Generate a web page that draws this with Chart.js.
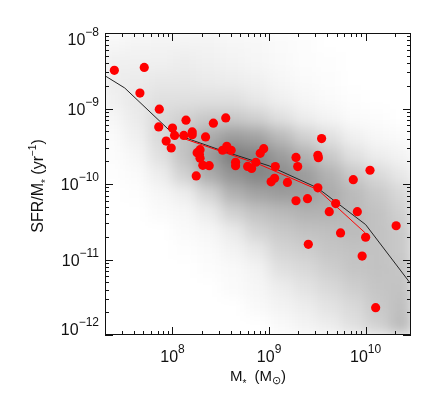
<!DOCTYPE html>
<html>
<head>
<meta charset="utf-8">
<script src="https://cdn.jsdelivr.net/npm/chart.js@4.4.1/dist/chart.umd.min.js"></script>
<style>
  body { margin: 0; background: #fff; }
  #wrap { width: 443px; height: 403px; }
</style>
</head>
<body>
<div id="wrap"><canvas id="c" width="443" height="403"></canvas></div>
<script>
// --- DATA ---
// red points: stellar mass (Msun) and specific SFR (1/yr)
const redMass = [2.5e7, 5.1e7, 4.6e7, 7.3e7, 7.2e7, 1.0e8, 8.6e7, 9.7e7, 1.05e8, 1.31e8,
  1.38e8, 1.6e8, 1.6e8, 2.2e8, 2.65e8, 3.56e8, 1.8e8, 1.93e8, 1.9e8, 1.93e8,
  2.06e8, 2.4e8, 1.76e8, 3.3e8, 3.65e8, 4.05e8, 4.5e8, 4.5e8, 6.0e8, 6.6e8,
  7.3e8, 8.1e8, 8.8e8, 1.05e9, 1.14e9, 1.16e9, 1.55e9, 1.9e9, 1.98e9, 1.9e9,
  2.5e9, 2.55e9, 3.2e9, 3.2e9, 3.24e9, 3.5e9, 4.2e9, 4.9e9, 5.5e9, 7.45e9,
  8.2e9, 9.2e9, 1.0e10, 1.11e10, 1.27e10, 2.07e10];
const redSSFR = [3.2e-9, 3.5e-9, 1.6e-9, 9.8e-10, 5.7e-10, 5.5e-10, 3.7e-10, 3.0e-10, 4.4e-10, 4.4e-10,
  7.0e-10, 4.9e-10, 4.5e-10, 4.2e-10, 6.4e-10, 7.5e-10, 2.6e-10, 2.85e-10, 2.45e-10, 2.2e-10,
  1.77e-10, 1.75e-10, 1.28e-10, 2.8e-10, 3.15e-10, 2.8e-10, 1.94e-10, 1.75e-10, 1.71e-10, 1.61e-10,
  1.94e-10, 2.55e-10, 2.94e-10, 1.07e-10, 1.19e-10, 1.7e-10, 1.05e-10, 2.25e-10, 1.7e-10, 6.0e-11,
  6.4e-11, 1.59e-11, 8.9e-11, 2.4e-10, 2.23e-10, 4.0e-10, 4.3e-11, 5.5e-11, 2.25e-11, 1.14e-10,
  4.3e-11, 1.11e-11, 1.97e-11, 1.52e-10, 2.3e-12, 2.8e-11];

// red median line
const redLineMass = [1.2e8, 8.1e8, 3.2e9, 9.9e9];
const redLineSSFR = [4.15e-10, 1.8e-10, 8.4e-11, 2.25e-11];

// black median line of the background sample
const blackLineMass = [1e7, 3.2e7, 1e8, 3.16e8, 1e9, 3.16e9, 1e10, 3.16e10];
const blackLineSSFR = [4.7e-9, 1.87e-9, 4.7e-10, 2.8e-10, 1.74e-10, 8.9e-11, 2.9e-11, 4.2e-12];

// background sample, read as a density grid (bin centres in log10, 0.25 dex bins)
const cloudLogMass = [7.375, 7.625, 7.875, 8.125, 8.375, 8.625, 8.875, 9.125, 9.375, 9.625, 9.875, 10.125, 10.375];
const cloudLogSSFR = [-8.125, -8.375, -8.625, -8.875, -9.125, -9.375, -9.625, -9.875,
  -10.125, -10.375, -10.625, -10.875, -11.125, -11.375, -11.625, -11.875];
const cloudDensity = [
  [0.5, 0.7, 0.8, 0.8, 0.8, 0.6, 0.5, 0.3, 0.2, 0, 0, 0, 0],
  [1, 1, 1, 1.2, 1, 0.8, 0.6, 0.4, 0.2, 0.1, 0, 0, 0],
  [1.2, 1.3, 1.5, 1.5, 1.3, 1.2, 1, 0.6, 0.3, 0.2, 0, 0, 0],
  [1, 1.5, 2, 2, 2, 2, 1.5, 1, 0.6, 0.3, 0.1, 0, 0],
  [0.6, 1.3, 2.5, 3, 3.5, 3.5, 3, 2, 1.2, 0.7, 0.3, 0.2, 0],
  [0.3, 1, 2.5, 4, 5.5, 6.5, 6, 4.5, 3, 2, 1, 0.5, 0.3],
  [0.2, 0.6, 2, 4, 6.5, 8.5, 8, 6.5, 5, 3.5, 2, 1.2, 0.8],
  [0.1, 0.3, 1.2, 3, 5.5, 7, 8, 7.5, 6.5, 5, 3.5, 2.5, 1.5],
  [0, 0.1, 0.6, 1.2, 2.8, 5, 6, 6.5, 6.5, 5.5, 4.5, 3.5, 2.5],
  [0, 0, 0.3, 0.5, 1.3, 3, 4, 4.5, 5, 5, 4.5, 4, 3],
  [0, 0, 0, 0.3, 0.6, 1.4, 2.8, 3.5, 4, 4.2, 4.5, 4, 3.5],
  [0, 0, 0, 0.1, 0.3, 0.8, 1.5, 2.8, 3.2, 3.8, 4, 4, 3.5],
  [0, 0, 0, 0, 0.2, 0.4, 0.8, 2, 2.5, 3.2, 3.8, 4, 3.8],
  [0, 0, 0, 0, 0, 0.3, 0.6, 1.2, 1.8, 2.5, 3.2, 3.8, 4],
  [0, 0, 0, 0, 0, 0, 0.4, 0.8, 1.2, 1.8, 2.5, 3.5, 4.2],
  [0, 0, 0, 0, 0, 0, 0, 0.4, 0.8, 1.2, 2, 3, 4.5]
];

// axis ranges and tick labels (exponents of ten)
const xRange = [2.0e7, 2.95e10];
const yRange = [1e-12, 1e-8];
const xTickExps = [8, 9, 10];
const yTickExps = [-8, -9, -10, -11, -12];

// --- STYLE ---
const FONT = '"Liberation Sans", Arial, Helvetica, sans-serif';
const INK = '#111';

function toXY(xs, ys) { return xs.map((x, i) => ({ x: x, y: ys[i] })); }

// rich text helpers: parts are [text, fontSize, dy]
function measureRich(ctx, parts) {
  let w = 0;
  parts.forEach(p => { ctx.font = `${p[1]}px ${FONT}`; w += ctx.measureText(p[0]).width; });
  return w;
}
function drawRich(ctx, parts, x, y) {
  let cx = x;
  parts.forEach(p => {
    ctx.font = `${p[1]}px ${FONT}`;
    ctx.fillText(p[0], cx, y + p[2]);
    cx += ctx.measureText(p[0]).width;
  });
}
function powParts(exp) {
  const e = exp < 0 ? '\u2212' + Math.abs(exp) : String(exp);
  return [['10', 16, 0], [e, 12, -9]];
}

// background cloud: density cells, blurred into a haze
const cloudPlugin = {
  id: 'cloud',
  beforeDatasetsDraw(chart) {
    const { ctx, chartArea: a, scales: { x, y } } = chart;
    const off = document.createElement('canvas');
    off.width = chart.width; off.height = chart.height;
    const oc = off.getContext('2d');
    cloudLogSSFR.forEach((ly, r) => {
      cloudLogMass.forEach((lx, c) => {
        const d = cloudDensity[r][c];
        if (!d) return;
        const x0 = x.getPixelForValue(Math.pow(10, lx - 0.125));
        const x1 = x.getPixelForValue(Math.pow(10, lx + 0.125));
        const y0 = y.getPixelForValue(Math.pow(10, ly + 0.125));
        const y1 = y.getPixelForValue(Math.pow(10, ly - 0.125));
        oc.fillStyle = `rgba(0,0,0,${Math.min(d * 0.06, 0.55)})`;
        oc.fillRect(x0, y0, x1 - x0, y1 - y0);
      });
    });
    ctx.save();
    ctx.beginPath();
    ctx.rect(a.left, a.top, a.right - a.left, a.bottom - a.top);
    ctx.clip();
    ctx.filter = 'blur(7px)';
    ctx.drawImage(off, 0, 0);
    ctx.restore();
  }
};

// IDL-style frame: inward ticks on all four sides, labels with exponents
const framePlugin = {
  id: 'frame',
  afterDraw(chart) {
    const { ctx, chartArea: a, scales: { x, y } } = chart;
    ctx.save();
    ctx.strokeStyle = INK;
    ctx.lineWidth = 1;
    ctx.strokeRect(a.left + 0.5, a.top + 0.5, a.right - a.left - 1, a.bottom - a.top - 1);

    ctx.beginPath();
    for (let d = 7; d <= 10; d++) {
      for (let m = 1; m <= 9; m++) {
        const v = m * Math.pow(10, d);
        if (v < xRange[0] || v > xRange[1]) continue;
        const px = Math.round(x.getPixelForValue(v)) + 0.5;
        const len = m === 1 ? 8 : 4;
        ctx.moveTo(px, a.bottom); ctx.lineTo(px, a.bottom - len);
        ctx.moveTo(px, a.top); ctx.lineTo(px, a.top + len);
      }
    }
    for (let d = -12; d <= -9; d++) {
      for (let m = 1; m <= 9; m++) {
        const v = m * Math.pow(10, d);
        const py = Math.round(y.getPixelForValue(v)) + 0.5;
        const len = m === 1 ? 8 : 4;
        ctx.moveTo(a.left, py); ctx.lineTo(a.left + len, py);
        ctx.moveTo(a.right, py); ctx.lineTo(a.right - len, py);
      }
    }
    ctx.stroke();

    ctx.fillStyle = INK;
    ctx.textBaseline = 'alphabetic';
    ctx.textAlign = 'left';
    xTickExps.forEach(e => {
      const parts = powParts(e);
      const w = measureRich(ctx, parts);
      const px = x.getPixelForValue(Math.pow(10, e));
      drawRich(ctx, parts, px - w / 2, a.bottom + 27);
    });
    yTickExps.forEach(e => {
      const parts = powParts(e);
      const w = measureRich(ctx, parts);
      const py = y.getPixelForValue(Math.pow(10, e));
      const base = Math.min(Math.max(py + 6, a.top + 12), a.bottom);
      drawRich(ctx, parts, a.left - 6 - w, base);
    });

    // axis titles
    const xt = [['M', 15, 0], ['*', 10, 6], ['  (M', 15, 0], ['\u2299', 11, 3], [')', 15, 0]];
    const xw = measureRich(ctx, xt);
    drawRich(ctx, xt, (a.left + a.right) / 2 - xw / 2, a.bottom + 46);

    const yt = [['SFR/M', 16, 0], ['*', 10, 6], [' (yr', 16, 0], ['\u22121', 10, -7], [')', 16, 0]];
    const yw = measureRich(ctx, yt);
    ctx.translate(43, (a.top + a.bottom) / 2 + 2);
    ctx.rotate(-Math.PI / 2);
    drawRich(ctx, yt, -yw / 2, 0);
    ctx.restore();
  }
};

new Chart(document.getElementById('c'), {
  type: 'scatter',
  data: {
    datasets: [
      {
        label: 'sample',
        data: toXY(redMass, redSSFR),
        backgroundColor: '#ff0000',
        borderWidth: 0,
        pointRadius: 4.6,
        pointHoverRadius: 4.6
      },
      {
        label: 'sample median',
        data: toXY(redLineMass, redLineSSFR),
        showLine: true,
        borderColor: '#ff0000',
        borderWidth: 1,
        pointRadius: 0
      },
      {
        label: 'background median',
        data: toXY(blackLineMass, blackLineSSFR),
        showLine: true,
        borderColor: '#222',
        borderWidth: 1,
        pointRadius: 0
      }
    ]
  },
  options: {
    responsive: false,
    animation: false,
    devicePixelRatio: 1,
    layout: { padding: { left: 105, right: 32, top: 33, bottom: 68 } },
    plugins: { legend: { display: false }, tooltip: { enabled: false } },
    scales: {
      x: { type: 'logarithmic', min: xRange[0], max: xRange[1], display: false },
      y: { type: 'logarithmic', min: yRange[0], max: yRange[1], display: false }
    }
  },
  plugins: [cloudPlugin, framePlugin]
});
</script>
</body>
</html>
